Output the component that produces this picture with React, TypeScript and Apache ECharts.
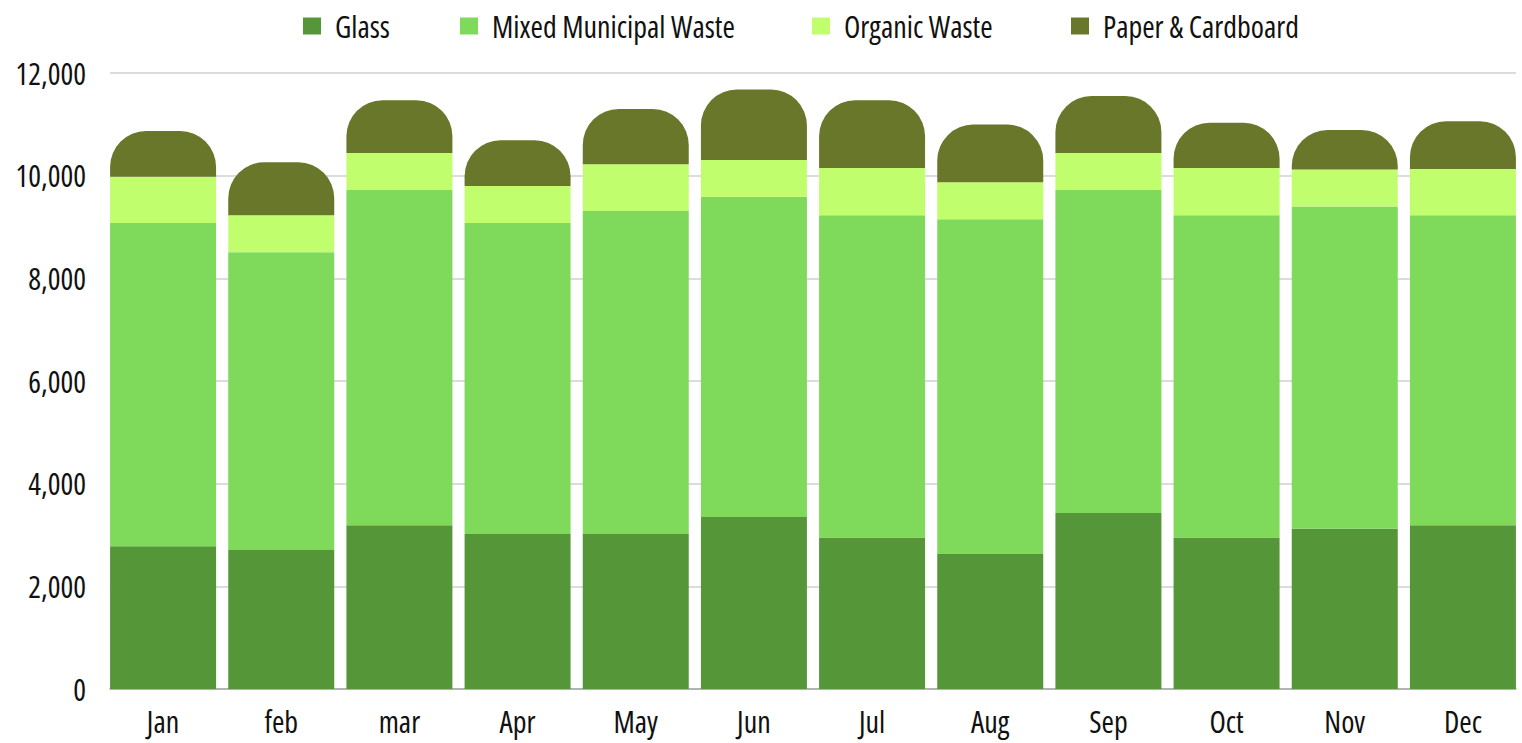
import React, { useEffect, useRef } from "react";
import * as echarts from "echarts";

const months = ["Jan", "feb", "mar", "Apr", "May", "Jun", "Jul", "Aug", "Sep", "Oct", "Nov", "Dec"];
const glass = [2780, 2710, 3190, 3020, 3020, 3350, 2950, 2630, 3430, 2950, 3120, 3190];
const mixedMunicipal = [6300, 5800, 6530, 6060, 6290, 6240, 6280, 6520, 6290, 6280, 6280, 6040];
const organic = [900, 720, 720, 720, 910, 715, 920, 720, 720, 920, 720, 900];
const paperCardboard = [890, 1030, 1030, 890, 1080, 1375, 1320, 1125, 1110, 880, 770, 930];
const yTicks = [0, 2000, 4000, 6000, 8000, 10000, 12000];
const seriesNames = ["Glass", "Mixed Municipal Waste", "Organic Waste", "Paper & Cardboard"];

const FONT = "'Open Sans', 'DejaVu Sans Condensed', sans-serif";

export default function App() {
  const ref = useRef<HTMLDivElement>(null);
  useEffect(() => {
    if (!ref.current) return;
    const chart = echarts.init(ref.current, undefined, { renderer: "svg" });
    const colors = ["#559639", "#7fd95a", "#c1fe6e", "#69772a"];
    const datas = [glass, mixedMunicipal, organic, paperCardboard];
    const legendLefts = [298, 455, 807, 1066];
    const yMin = yTicks[0];
    const yMax = yTicks[yTicks.length - 1];
    chart.setOption({
      animation: false,
      textStyle: { fontFamily: FONT },
      legend: seriesNames.map((n, i) => ({
        top: 6,
        left: legendLefts[i],
        itemWidth: 18,
        itemHeight: 17,
        icon: "rect",
        textStyle: { fontFamily: FONT, fontSize: 30, color: "#111", padding: [0, 0, 0, 9] },
        data: [n],
      })),
      grid: [
        { left: 110, right: 6, top: 73, bottom: 54, containLabel: false, outerBoundsMode: "none" },
        { left: 104, right: 0, top: 73, bottom: 54, containLabel: false, outerBoundsMode: "none" },
      ],
      xAxis: [
        {
          gridIndex: 0,
          type: "category",
          data: months,
          axisTick: { show: false },
          axisLabel: { show: false },
          axisLine: { lineStyle: { color: "#a6a6a6", width: 1.5 } },
        },
        {
          gridIndex: 1,
          type: "category",
          data: months,
          axisTick: { show: false },
          axisLine: { show: false },
          axisLabel: { fontFamily: FONT, fontSize: 30, color: "#111", margin: 17 },
        },
      ],
      yAxis: [
        {
          gridIndex: 0,
          type: "value",
          min: yMin,
          max: yMax,
          interval: 2000,
          axisLine: { show: false },
          axisTick: { show: false },
          splitLine: { lineStyle: { color: "#d0d0d0", width: 1.5 } },
          axisLabel: {
            fontFamily: FONT,
            fontSize: 30,
            color: "#111",
            margin: 24,
            formatter: (v: number) => v.toLocaleString("en-US"),
          },
        },
        {
          gridIndex: 1,
          type: "value",
          min: yMin,
          max: yMax,
          interval: 2000,
          axisLine: { show: false },
          axisTick: { show: false },
          splitLine: { show: false },
          axisLabel: { show: false },
        },
      ],
      series: seriesNames.map((n, i) => ({
        name: n,
        type: "bar",
        stack: "total",
        xAxisIndex: 1,
        yAxisIndex: 1,
        data: datas[i],
        barCategoryGap: "10.3%",
        itemStyle: {
          color: colors[i],
          borderRadius: i === 3 ? [36, 36, 0, 0] : 0,
        },
      })),
    });
    return () => chart.dispose();
  }, []);
  return (
    <>
      <style>{`.wchart text { font-stretch: 75% !important; }`}</style>
      <div
        ref={ref}
        className="wchart"
        style={{ position: "absolute", left: 0, top: 0, width: 1522, height: 743, background: "#fff" }}
      />
    </>
  );
}
